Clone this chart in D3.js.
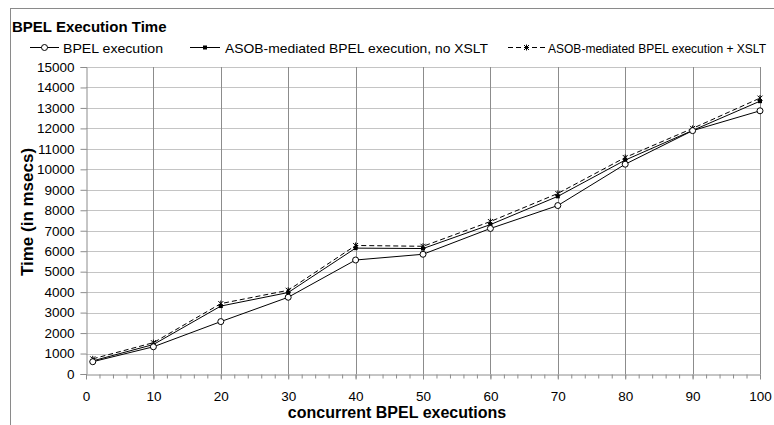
<!DOCTYPE html>
<html>
<head>
<meta charset="utf-8">
<script src="https://cdn.jsdelivr.net/npm/d3@7"></script>
<style>
  body { margin: 0; background: #fff; }
  text { font-family: "Liberation Sans", Arial, sans-serif; fill: #000; }
</style>
</head>
<body>
<div id="chart"></div>
<script>
// Data
const xValues = [1, 10, 20, 30, 40, 50, 60, 70, 80, 90, 100];
const bpelExecution = [600, 1330, 2560, 3750, 5570, 5850, 7110, 8230, 10250, 11890, 12860];
const asobNoXslt = [640, 1440, 3320, 3980, 6150, 6130, 7300, 8680, 10450, 11900, 13330];
const asobXslt = [740, 1530, 3440, 4090, 6280, 6240, 7450, 8820, 10580, 12000, 13480];
const xTicks = [0, 10, 20, 30, 40, 50, 60, 70, 80, 90, 100];
const yTicks = d3.range(0, 15001, 1000);
const seriesNames = ["BPEL execution", "ASOB-mediated BPEL execution, no XSLT", "ASOB-mediated BPEL execution + XSLT"];

const width = 774;
const height = 425;
const plot = { left: 86, right: 760, top: 67, bottom: 374 };

const svg = d3.select("#chart")
    .append("svg")
    .attr("width", width)
    .attr("height", height);

// outer frame (runs off the right and bottom edges)
svg.append("rect")
    .attr("x", 10.5)
    .attr("y", 8.5)
    .attr("width", 800)
    .attr("height", 450)
    .attr("fill", "none")
    .attr("stroke", "#8a8a8a");

const x = d3.scaleLinear().domain([0, 100]).range([plot.left, plot.right]);
const y = d3.scaleLinear().domain([0, 15000]).range([plot.bottom, plot.top]);

// horizontal gridlines
svg.append("g")
    .selectAll("line")
    .data(yTicks.slice(1))
    .enter()
    .append("line")
    .attr("x1", plot.left)
    .attr("x2", plot.right)
    .attr("y1", d => Math.round(y(d)) + 0.5)
    .attr("y2", d => Math.round(y(d)) + 0.5)
    .attr("stroke", "#c4c4c4");

// vertical gridlines
svg.append("g")
    .selectAll("line")
    .data(xTicks.slice(1))
    .enter()
    .append("line")
    .attr("x1", d => Math.round(x(d)) + 0.5)
    .attr("x2", d => Math.round(x(d)) + 0.5)
    .attr("y1", plot.top)
    .attr("y2", plot.bottom)
    .attr("stroke", "#8c8c8c");

// y axis
const yAxis = svg.append("g")
    .attr("transform", `translate(${plot.left + 0.5},0)`)
    .call(d3.axisLeft(y).tickValues(yTicks).tickSize(6).tickPadding(6).tickFormat(d3.format("d")));
yAxis.select(".domain").attr("stroke", "#8c8c8c");
yAxis.selectAll(".tick line").attr("stroke", "#8c8c8c");
yAxis.selectAll(".tick text")
    .style("font-size", "13.5px")
    .style("font-family", "'Liberation Sans', Arial, sans-serif")
    .attr("fill", "#000");

// x axis minor ticks
svg.append("g")
    .attr("transform", `translate(0,${plot.bottom + 0.5})`)
    .call(d3.axisBottom(x).tickValues(d3.range(0, 101, 2)).tickSize(4).tickFormat(""))
    .call(g => g.selectAll("line").attr("stroke", "#8c8c8c"))
    .call(g => g.select(".domain").attr("stroke", "#8c8c8c"));

// x axis major ticks and labels
const xAxis = svg.append("g")
    .attr("transform", `translate(0,${plot.bottom + 0.5})`)
    .call(d3.axisBottom(x).tickValues(xTicks).tickSize(5).tickPadding(12));
xAxis.select(".domain").remove();
xAxis.selectAll(".tick line").attr("stroke", "#8c8c8c");
xAxis.selectAll(".tick text")
    .style("font-size", "13.5px")
    .style("font-family", "'Liberation Sans', Arial, sans-serif")
    .attr("fill", "#000");

// series lines
const lineGen = (values) => d3.line()
    .x((d, i) => x(xValues[i]))
    .y(d => y(d))(values);

svg.append("path")
    .attr("d", lineGen(asobXslt))
    .attr("fill", "none")
    .attr("stroke", "#000")
    .attr("stroke-width", 1)
    .attr("stroke-dasharray", "5,3");

svg.append("path")
    .attr("d", lineGen(asobNoXslt))
    .attr("fill", "none")
    .attr("stroke", "#000")
    .attr("stroke-width", 1);

svg.append("path")
    .attr("d", lineGen(bpelExecution))
    .attr("fill", "none")
    .attr("stroke", "#000")
    .attr("stroke-width", 1);

// marker helpers
function drawStar(g, cx, cy) {
    g.append("path")
        .attr("d", `M${cx - 2.5},${cy - 2.5}L${cx + 2.5},${cy + 2.5}M${cx - 2.5},${cy + 2.5}L${cx + 2.5},${cy - 2.5}M${cx},${cy - 3}L${cx},${cy + 3}`)
        .attr("stroke", "#000")
        .attr("stroke-width", 1);
}
function drawSquare(g, cx, cy) {
    g.append("rect")
        .attr("x", cx - 2)
        .attr("y", cy - 2)
        .attr("width", 4)
        .attr("height", 4)
        .attr("fill", "#000");
}
function drawCircle(g, cx, cy) {
    g.append("circle")
        .attr("cx", cx)
        .attr("cy", cy)
        .attr("r", 3)
        .attr("fill", "#fff")
        .attr("stroke", "#000")
        .attr("stroke-width", 1);
}

const markers = svg.append("g");
asobXslt.forEach((d, i) => drawStar(markers, x(xValues[i]), y(d)));
asobNoXslt.forEach((d, i) => drawSquare(markers, x(xValues[i]), y(d)));
bpelExecution.forEach((d, i) => drawCircle(markers, x(xValues[i]), y(d)));

// title
svg.append("text")
    .attr("x", 12)
    .attr("y", 32)
    .style("font-size", "15px")
    .style("font-weight", "bold")
    .text("BPEL Execution Time");

// legend
const legendItems = [
    { x1: 30, x2: 59, textX: 63, dash: null, marker: drawCircle, len: 100, size: 13.5 },
    { x1: 190, x2: 220, textX: 225, dash: null, marker: drawSquare, len: 263, size: 13.5 },
    { x1: 508, x2: 545, textX: 548, dash: "5,3", marker: drawStar, len: 218, size: 12 }
];
const legend = svg.append("g");
legendItems.forEach((item, i) => {
    legend.append("line")
        .attr("x1", item.x1)
        .attr("x2", item.x2)
        .attr("y1", 47.5)
        .attr("y2", 47.5)
        .attr("stroke", "#000")
        .attr("stroke-dasharray", item.dash);
    item.marker(legend, (item.x1 + item.x2) / 2, 47.5);
    legend.append("text")
        .attr("x", item.textX)
        .attr("y", 52.5)
        .style("font-size", item.size + "px")
        .attr("textLength", item.len)
        .attr("lengthAdjust", "spacingAndGlyphs")
        .text(seriesNames[i]);
});

// axis titles
svg.append("text")
    .attr("x", 397)
    .attr("y", 418)
    .attr("text-anchor", "middle")
    .style("font-size", "16px")
    .style("font-weight", "bold")
    .text("concurrent BPEL executions");

svg.append("text")
    .attr("transform", "translate(33,212) rotate(-90)")
    .attr("text-anchor", "middle")
    .style("font-size", "17px")
    .style("font-weight", "bold")
    .text("Time (in msecs)");
</script>
</body>
</html>
